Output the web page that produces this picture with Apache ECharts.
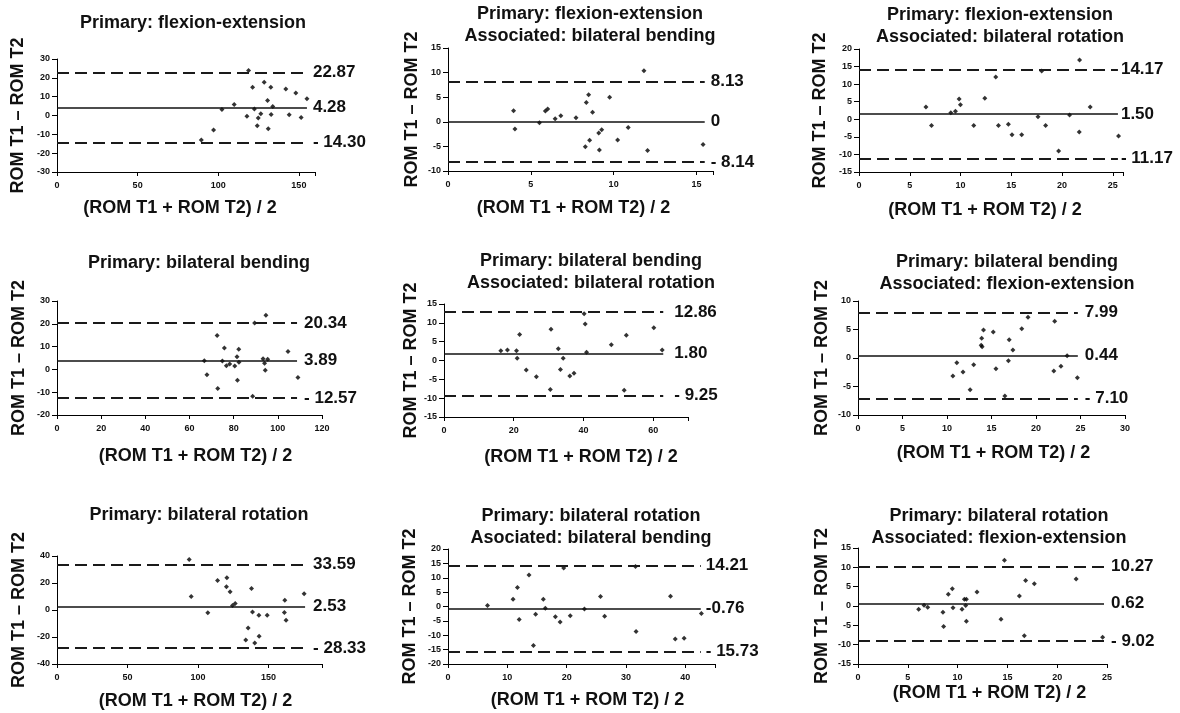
<!DOCTYPE html>
<html>
<head>
<meta charset="utf-8">
<title>Bland-Altman ROM</title>
<script src="https://cdn.jsdelivr.net/npm/echarts@6/dist/echarts.min.js"></script>
<style>
  html, body { margin: 0; padding: 0; background: #fff; }
  #chart { width: 1180px; height: 713px; }
</style>
</head>
<body>
<div id="chart"></div>
<script>
// panel titles, row by row
var titles = [
  'Primary: flexion-extension',
  'Primary: flexion-extension\nAssociated: bilateral bending',
  'Primary: flexion-extension\nAssociated: bilateral rotation',
  'Primary: bilateral bending',
  'Primary: bilateral bending\nAssociated: bilateral rotation',
  'Primary: bilateral bending\nAssociated: flexion-extension',
  'Primary: bilateral rotation',
  'Primary: bilateral rotation\nAsociated: bilateral bending',
  'Primary: bilateral rotation\nAssociated: flexion-extension'
];

// axis ranges
var xMaxs = [160, 16, 26, 120, 70, 30, 188, 45, 25];
var xSteps = [50, 5, 5, 20, 20, 5, 50, 10, 5];
var yMins = [-30, -10, -15, -20, -15, -10, -40, -20, -15];
var yMaxs = [30, 15, 20, 30, 15, 10, 40, 20, 15];
var ySteps = [10, 5, 5, 10, 5, 5, 20, 5, 5];

// limits of agreement + mean difference
var upperLoA = [22.87, 8.13, 14.17, 20.34, 12.86, 7.99, 33.59, 14.21, 10.27];
var meanDiff = [4.28, 0, 1.50, 3.89, 1.80, 0.44, 2.53, -0.76, 0.62];
var lowerLoA = [-14.30, -8.14, -11.17, -12.57, -9.25, -7.10, -28.33, -15.73, -9.02];
var lineEnds = [155, 15.5, 25.5, 108.7, 62.9, 24.7, 176, 42.6, 24.7];

// [mean of T1,T2 , T1 - T2]
var pFlex = [[118.8,23.9],[121.3,15.0],[128.5,17.7],[132.6,15.0],[141.9,14.1],[148.1,12.0],[155,8.9],
  [109.9,5.9],[102.3,3.2],[122.4,3.4],[130.6,7.9],[133.8,4.8],[117.8,-0.4],[124.8,-1.3],[126.4,0.9],
  [132.8,0.5],[144,0.4],[151.4,-1.1],[124.2,-5.4],[131,-7.1],[97.1,-7.7],[89.5,-13]];
var pFlexBend = [[3.96,2.26],[4.04,-1.44],[5.52,-0.2],[5.88,2.19],[6.02,2.6],[6.47,0.62],[6.81,1.23],
  [7.73,0.82],[8.35,3.9],[8.49,5.48],[8.73,1.92],[9.76,5.0],[8.29,-5.07],[8.55,-3.77],[9.1,-2.26],
  [9.28,-1.64],[9.14,-5.75],[10.24,-3.7],[10.88,-1.16],[11.83,10.4],[12.05,-5.82],[15.4,-4.59]];
var pFlexRot = [[6.59,3.5],[7.14,-1.8],[9.04,1.89],[9.5,2.27],[9.86,5.78],[9.99,4.16],[11.3,-1.8],
  [12.39,5.97],[13.47,12.04],[13.73,-1.8],[14.71,-1.43],[15.07,-4.37],[16.02,-4.37],[17.63,0.75],
  [17.99,13.75],[18.38,-1.8],[19.66,-9.0],[20.74,1.23],[21.69,-3.6],[21.72,16.88],[22.77,3.5],[25.56,-4.74]];
var pBend = [[66.7,3.8],[67.9,-2.3],[72.5,14.9],[72.8,-8.4],[74.9,3.7],[75.8,9.4],[76.7,1.6],[78.2,2.4],
  [80.5,1.5],[81.5,5.6],[81.7,-4.8],[82.3,8.8],[82.4,3.1],[88.6,-11.8],[89.5,20.3],[94.6,23.8],
  [93.3,4.7],[94.0,2.7],[94.3,-0.4],[95.4,4.4],[104.6,7.9],[109.1,-3.5]];
var pBendRot = [[16.3,2.6],[18.2,2.8],[20.8,2.6],[21.0,0.6],[21.7,6.9],[23.6,-2.5],[26.5,-4.3],
  [30.7,8.3],[30.5,-7.7],[32.8,3.1],[33.4,-2.4],[34.2,0.6],[36.1,-4.1],[37.3,-3.4],[40.2,12.4],
  [40.5,9.7],[40.9,2.2],[48.0,4.2],[51.7,-7.9],[52.3,6.7],[60.2,8.7],[62.6,2.8]];
var pBendFlex = [[10.66,-3.16],[11.1,-0.82],[11.8,-2.46],[12.6,-5.56],[13.0,-1.17],[13.84,2.22],
  [13.95,1.99],[13.9,3.45],[14.1,4.91],[15.2,4.56],[15.5,-1.87],[16.5,-6.67],[16.9,-0.47],[16.99,3.2],
  [17.4,1.4],[18.4,5.15],[19.1,7.13],[22.1,6.43],[22.0,-2.28],[22.8,-1.46],[23.5,0.41],[24.65,-3.45]];
var pRot = [[93.8,37.5],[95.2,10.0],[107.0,-2.1],[113.9,21.9],[120.5,23.9],[120.2,17.2],[122.8,13.5],
  [124.5,3.3],[126.4,4.8],[133.9,-22.2],[135.6,-13.3],[138.0,16.0],[138.7,-1.4],[140.3,-24.4],
  [143.2,-3.8],[143.4,-19.4],[149.1,-3.8],[161.3,-1.9],[161.6,7.3],[162.5,-7.6],[175.3,12.0]];
var pRotBend = [[6.66,0.35],[10.97,2.54],[11.7,6.6],[12.0,-4.5],[13.65,11.0],[14.4,-13.6],[14.77,-2.66],
  [16.06,2.54],[16.4,-0.58],[18.1,-3.6],[18.9,-5.4],[19.5,13.4],[20.6,-3.2],[23.0,-0.9],[25.7,3.5],
  [26.4,-3.35],[31.6,13.9],[31.7,-8.7],[37.5,3.6],[38.3,-11.3],[39.8,-11.0],[42.7,-2.4]];
var pRotFlex = [[6.09,-0.82],[6.63,0.22],[7.0,-0.3],[8.53,-1.6],[8.6,-5.3],[9.07,3.07],[9.47,4.45],
  [9.54,-0.48],[10.44,-0.82],[10.68,1.77],[10.88,1.77],[10.81,0.13],[10.88,-3.93],[11.95,3.59],
  [14.36,-3.41],[14.7,11.8],[16.2,2.6],[16.7,-7.7],[16.83,6.6],[17.7,5.75],[21.9,6.96],[24.56,-8.08]];

var points = [pFlex, pFlexBend, pFlexRot, pBend, pBendRot, pBendFlex, pRot, pRotBend, pRotFlex];

// plot boxes, title centres, name gaps
var grids = [
  {left: 57, top: 59, width: 258, height: 113},
  {left: 448, top: 48, width: 265, height: 123},
  {left: 859, top: 49, width: 264, height: 123},
  {left: 57, top: 301, width: 265, height: 114},
  {left: 444, top: 304, width: 244, height: 113},
  {left: 858, top: 301, width: 267, height: 114},
  {left: 57, top: 556, width: 265, height: 108},
  {left: 448, top: 549, width: 267, height: 115},
  {left: 858, top: 548, width: 249, height: 116}
];
var titlePos = [[193, 12], [590, 3], [1000, 4], [199, 252], [591, 250], [1007, 251], [199, 504], [591, 505], [999, 505]];
var yNameGaps = [30, 27, 30, 29, 24, 27, 29, 29, 27];
var xNameGaps = [27, 28, 29, 32, 31, 29, 28, 27, 20];
var xNameShift = [-6, -7, -6, 6, 15, 2, 6, 6, 7];
var labelGaps = [6, 6, 3, 7, 11, 7, 8, 5, 7];

var font = '"Liberation Sans", Arial, sans-serif';
var ink = '#111';

function fmtMean(v) { return v === 0 ? '0' : v.toFixed(2); }
function fmtLower(v) { return '- ' + Math.abs(v).toFixed(2); }

var option = {
  animation: false,
  backgroundColor: '#fff',
  title: [], grid: [], xAxis: [], yAxis: [], series: []
};

titles.forEach(function (t, i) {
  option.title.push({
    text: t,
    left: titlePos[i][0],
    top: titlePos[i][1],
    textAlign: 'center',
    padding: 0,
    textStyle: {fontFamily: font, fontSize: 18, fontWeight: 'bold', color: ink, lineHeight: 22}
  });
  option.grid.push(grids[i]);

  var xs = xSteps[i], ys = ySteps[i];
  var sh = xNameShift[i];
  option.xAxis.push({
    type: 'value', gridIndex: i, min: 0, max: xMaxs[i], interval: xs,
    name: '(ROM T1 + ROM T2) / 2', nameLocation: 'middle', nameGap: xNameGaps[i],
    nameTextStyle: {
      fontFamily: font, fontSize: 18, fontWeight: 'bold', color: ink,
      padding: sh >= 0 ? [0, 0, 0, 2 * sh] : [0, -2 * sh, 0, 0]
    },
    axisLine: {onZero: false, lineStyle: {color: '#000', width: 1}},
    axisTick: {show: true, length: 4, lineStyle: {color: '#000'}},
    splitLine: {show: false},
    axisLabel: {
      fontFamily: font, fontSize: 9, fontWeight: 'bold', color: ink, margin: 9,
      formatter: function (v) { return Math.abs(v % xs) < 1e-9 ? String(v) : ''; }
    }
  });
  option.yAxis.push({
    type: 'value', gridIndex: i, min: yMins[i], max: yMaxs[i], interval: ys,
    name: 'ROM T1 \u2013 ROM T2', nameLocation: 'middle', nameGap: yNameGaps[i], nameRotate: 90,
    nameTextStyle: {fontFamily: font, fontSize: 18, fontWeight: 'bold', color: ink},
    axisLine: {show: true, onZero: false, lineStyle: {color: '#000', width: 1}},
    axisTick: {show: true, length: 5, lineStyle: {color: '#000'}},
    splitLine: {show: false},
    axisLabel: {fontFamily: font, fontSize: 9, fontWeight: 'bold', color: ink, margin: 7}
  });

  var dashed = {type: [12, 6], width: 1.8, color: '#1a1a1a'};
  var solid = {type: 'solid', width: 1.6, color: '#111'};
  var end = lineEnds[i];
  option.series.push({
    type: 'scatter',
    xAxisIndex: i, yAxisIndex: i,
    data: points[i],
    symbol: 'diamond',
    symbolSize: 5,
    itemStyle: {color: '#000'},
    silent: true,
    markLine: {
      silent: true,
      symbol: 'none',
      animation: false,
      label: {
        position: 'end', distance: labelGaps[i],
        fontFamily: font, fontSize: 17, fontWeight: 'bold', color: ink
      },
      data: [
        [{coord: [0, upperLoA[i]], lineStyle: dashed, label: {formatter: upperLoA[i].toFixed(2)}},
         {coord: [end, upperLoA[i]]}],
        [{coord: [0, meanDiff[i]], lineStyle: solid, label: {formatter: fmtMean(meanDiff[i])}},
         {coord: [end, meanDiff[i]]}],
        [{coord: [0, lowerLoA[i]], lineStyle: dashed, label: {formatter: fmtLower(lowerLoA[i])}},
         {coord: [end, lowerLoA[i]]}]
      ]
    }
  });
});

var myChart = echarts.init(document.getElementById('chart'), null, {renderer: 'canvas'});
myChart.setOption(option);
window.addEventListener('resize', function () {
  myChart.resize();
});
</script>
</body>
</html>
